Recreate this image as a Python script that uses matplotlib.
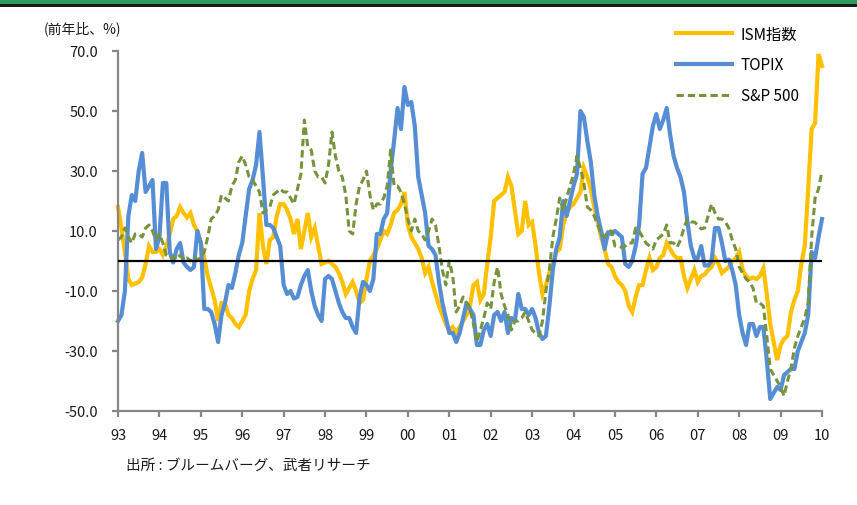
import matplotlib
matplotlib.use('Agg')
from matplotlib import pyplot as plt
from matplotlib.patches import Rectangle
import numpy as np

plt.rcParams['font.family'] = ['Noto Sans CJK JP', 'DejaVu Sans']

# monthly YoY %, Jan 1993 .. Jan 2010
ism = [18, 11, 3, -6, -8, -7.5, -7, -5.5, -1, 5, 3, 3,
       4, 2, 5, 9, 14, 15, 18, 16, 14.5, 16, 12, 10,
       6, 1, -5, -9, -13, -20, -14, -14, -18, -19, -21, -22,
       -20, -18, -10, -6, -3, 16, 5, -1, 7, 8, 15, 19,
       19, 17, 14, 9, 14, 4, 10, 16, 8, 11, 5, -1,
       -0.5, 0, -1, -2, -4, -7, -11, -9, -7, -10, -14, -13,
       -6, 0, 2, 4, 7, 10, 9, 12, 16, 17, 19, 23,
       12, 8, 6, 4, 1, -4, -2, -7, -11, -15, -18, -21,
       -23, -22, -24, -22, -20, -18, -15, -8, -7, -13, -11, -1,
       8, 20, 21, 22, 23, 28, 25, 17, 9, 10, 20, 12,
       13, 5, -4, -11, -8, -4, -1, 3, 4, 12, 16, 18,
       19, 21, 23, 31, 28, 24, 18, 13, 8, 4, -1, -2,
       -5, -7, -8, -10, -15, -17, -12, -8, -8, -3, 1, -3,
       -2, 1, 2, 6, 4, 2, 1, 1, -5, -9, -6, -3,
       -7, -5, -4.5, -3, -2, 1, -1, -4, -3, -2, 0, 1,
       3, -3, -5, -6, -5.5, -6, -5, -2.5, -11, -21, -27, -33,
       -28, -26, -25, -17, -13, -10, -1, 5, 24, 44, 46, 69,
       65]

topix = [-20, -18, -10, 15, 22, 20, 30, 36, 23, 25, 27, 4,
         8, 26, 26, 3, -0.5, 4, 6, -0.5, -2, -3, -2, 10,
         6, -16, -16, -17, -21, -27, -18, -14, -8, -9, -4, 2,
         6, 15, 24, 27, 32, 43, 28, 12, 12, 11, 8, 5,
         -8, -11, -10, -12.5, -12, -8, -5, -3, -10, -15, -18, -20,
         -6, -5, -6, -10, -14, -17, -19, -19, -22, -24, -12, -7,
         -8, -10, -6, 9, 9, 14, 16, 30, 40, 51, 44, 58,
         52, 53, 45, 28, 22, 16, 5, 4, 2, -7, -14, -19,
         -24, -24, -27, -24, -19, -14, -16, -18, -28, -28, -23, -21,
         -25, -18, -17, -20, -17, -24, -19, -20, -11, -16, -16, -18,
         -16, -19, -24, -26, -25, -15, -3, 4, 8, 20, 15, 20,
         25, 29, 50, 48, 40, 33, 22, 15, 10, 4, 9.6, 9,
         10, 9, 8, -1, -2, 0, 5, 12, 29, 31, 38, 45,
         49, 44, 47, 51, 42, 35, 31, 28, 23, 13, 5, 1,
         1, 5, -1.5, -1.5, 0, 11, 11, 6, 0, 0.5, -3, -8,
         -18, -24, -28, -21, -21, -25, -22, -22, -33, -46, -44, -42,
         -43, -38, -37, -36, -36, -30, -27, -24, -18, 3, 1, 8,
         14]

sp500 = [7, 8, 11, 8, 6, 9, 9, 8, 11, 12, 10, 7,
         9, 6, 2, 1, 1.5, 0.5, 2, 0.5, 1, 0, 1.5, 0.5,
         1, 3, 8, 14, 15, 17, 22, 21, 20, 25, 27, 33,
         35, 32, 28, 27, 25, 23, 16, 17, 18, 22, 23, 24,
         23, 23, 21, 19, 24, 29, 47, 38, 37, 30, 28, 28,
         26, 32, 43, 35, 30, 28, 22, 10, 9, 19, 25, 27,
         30, 22, 17, 19, 19, 21, 25, 37, 25, 25, 23, 19,
         14, 10, 14, 10, 9, 7, 10, 14, 12, 5, -3, -8,
         0, -5, -17, -15, -12, -14, -16, -21, -27, -23, -19, -14,
         -16, -7, -2, -11, -15, -18, -23, -20, -20, -19, -17, -20,
         -23, -24, -25, -20, -10, -3, 8, 14, 21, 17, 21, 25,
         29, 35, 31, 26, 18, 17, 15, 12, 9, 8, 10, 10,
         5, 5, 4.5, 5, 6, 6, 11, 10, 8, 6, 5, 4,
         7, 8, 9, 12, 6, 6, 4.6, 7, 11, 14, 13, 13,
         12, 10.7, 11, 15, 19, 16, 14, 14, 13, 11, 7, 4,
         -2, -4, -6, -7, -9, -14, -14, -15, -25, -36, -38, -40,
         -42, -45, -40, -36, -29, -25, -22, -19, -14, 8, 21, 24,
         30]

year_labels = ['93', '94', '95', '96', '97', '98', '99', '00', '01',
               '02', '03', '04', '05', '06', '07', '08', '09', '10']
y_ticks = [-50, -30, -10, 10, 30, 50, 70]

months = np.arange(len(ism))

fig = plt.figure(figsize=(8.57, 5.06), dpi=100)
W, H = 857., 506.

# banner across the top
fig.patches.append(Rectangle((0, 1 - 5 / H), 1, 5 / H, transform=fig.transFigure,
                             facecolor='#2f9a5f', edgecolor='none'))
fig.patches.append(Rectangle((0, 1 - 7.5 / H), 1, 2.5 / H, transform=fig.transFigure,
                             facecolor='#1a1a1a', edgecolor='none'))

ax = fig.add_axes([118 / W, 1 - 412 / H, 704 / W, 360 / H])

ax.plot(months, ism, color='#ffc000', lw=3.0, label='ISM指数', clip_on=False,
        solid_joinstyle='miter')
ax.plot(months, topix, color='#558ed5', lw=3.0, label='TOPIX', clip_on=False)
ax.plot(months, sp500, color='#77933c', lw=2.2, ls=(0, (2.4, 1.3)), label='S&P 500',
        clip_on=False)
ax.plot([0, months[-1]], [0, 0], color='black', lw=1.6, zorder=5)

ax.set_xlim(0, 204)
ax.set_ylim(-50, 70)
ax.set_yticks(y_ticks)
ax.set_yticklabels(['%.1f' % v for v in y_ticks])
ax.set_xticks(np.arange(0, 205, 12))
ax.set_xticklabels(year_labels)

for side in ('top', 'right'):
    ax.spines[side].set_visible(False)
for side in ('left', 'bottom'):
    ax.spines[side].set_color('#868686')
    ax.spines[side].set_linewidth(1.6)
ax.tick_params(axis='both', colors='#868686', width=1.6, length=4.5, labelcolor='#1a1a1a',
               labelsize=10.5)
ax.tick_params(axis='y', pad=10)
ax.tick_params(axis='x', pad=8)

leg = ax.legend(loc='upper left', bbox_to_anchor=(668 / W, 1 - 19 / H),
                bbox_transform=fig.transFigure, frameon=False, fontsize=11,
                handlelength=3.7, handletextpad=0.55, labelspacing=0.9, borderpad=0)

fig.text(44 / W, 1 - 29 / H, '(前年比、%)', fontsize=10, va='center', ha='left',
         color='#1a1a1a')
fig.text(126 / W, 1 - 466 / H, '出所 : ブルームバーグ、武者リサーチ', fontsize=10.5,
         va='center', ha='left', color='#1a1a1a')

fig.savefig('out.png', dpi=100)
